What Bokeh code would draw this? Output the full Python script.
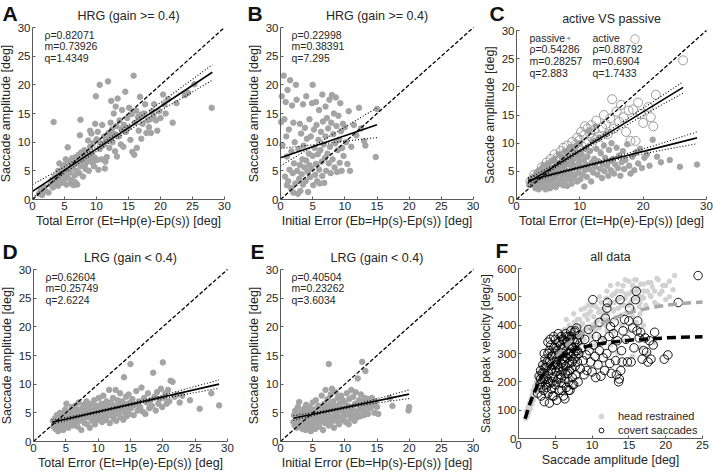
from bokeh.plotting import figure
from bokeh.layouts import column, row
from bokeh.models import Range1d, Label, FixedTicker, Legend, LegendItem
from bokeh.embed import file_html
from bokeh.resources import INLINE

FONT = "Liberation Sans"
TXT = "#262626"
AX = "#5a5a5a"
DOT = "#a4a4a4"

# ---------------- data ----------------
ident_x = [0, 30]
ident_y = [0, 30]

# A: HRG total error
a_pts = [(1.0,1.0),(1.3,1.6),(1.5,0.8),(1.8,2.2),(2.0,1.5),(2.5,1.2),(2.8,2.6),(3.0,3.4),(3.2,2.1),(3.3,13.5),
         (3.5,4.0),(3.6,2.8),(3.8,3.2),(4.0,5.0),(4.0,2.4),(4.2,6.3),(4.3,3.8),(4.5,4.6),(4.6,2.9),(4.8,5.6),
         (4.9,3.5),(5.0,4.2),(5.0,6.0),(5.2,7.0),(5.3,2.6),(5.5,9.1),(5.5,3.8),(5.6,5.2),(5.8,6.5),(5.9,4.7),
         (6.0,2.8),(6.1,3.4),(6.2,7.2),(6.3,5.6),(6.4,2.5),(6.5,6.1),(6.6,4.2),(6.7,3.0),(6.8,7.4),(6.9,5.0),
         (7.0,6.5),(7.0,2.6),(7.2,7.8),(7.3,4.6),(7.4,11.2),(7.5,13.9),(7.5,5.8),(7.6,8.2),(7.8,6.9),(7.9,4.0),
         (8.0,7.5),(8.1,8.6),(8.2,6.1),(8.3,5.3),(8.4,7.9),(8.5,8.2),(8.6,6.6),(8.7,10.3),(8.8,5.0),(8.9,7.1),
         (9.0,12.0),(9.0,9.2),(9.1,6.8),(9.2,11.5),(9.3,8.0),(9.4,6.4),(9.5,9.8),(9.6,5.8),(9.7,7.3),(9.8,13.2),
         (9.9,18.0),(10.0,10.5),(10.1,6.9),(10.2,11.8),(10.3,5.2),(10.5,20.0),(10.5,8.8),(10.6,9.9),(10.8,7.0),
         (10.9,13.0),(11.0,9.4),(11.2,11.0),(11.3,5.4),(11.4,6.6),(11.5,10.2),(11.6,7.4),(11.8,20.6),(11.9,11.6),
         (12.0,9.0),(12.1,10.8),(12.2,13.4),(12.3,17.2),(12.4,12.2),(12.5,10.0),(12.7,15.0),(12.8,11.4),(12.9,8.4),
         (13.0,16.2),(13.1,12.8),(13.2,7.5),(13.3,17.6),(13.5,11.0),(13.6,13.8),(13.8,9.6),(13.9,12.3),(14.0,15.6),
         (14.2,9.2),(14.3,13.0),(14.5,18.8),(14.6,11.8),(14.8,14.2),(15.0,12.5),(15.1,16.0),(15.3,10.4),(15.5,14.9),
         (15.6,8.3),(15.8,21.6),(15.9,7.8),(16.0,13.4),(16.2,15.5),(16.3,9.0),(16.5,14.4),(16.6,12.0),(16.8,17.9),
         (16.9,14.8),(17.0,10.6),(17.2,13.2),(17.4,15.0),(17.6,16.6),(17.8,11.6),(18.0,13.8),(18.2,12.6),(18.4,14.0),
         (18.5,11.6),(18.7,15.4),(18.9,14.6),(19.0,16.6),(19.3,13.8),(19.5,12.0),(19.8,15.4),(20.0,14.2),(20.4,18.3),
         (20.6,16.6),(20.8,15.0),(21.2,17.5),(21.9,13.4),(22.5,16.8),(23.8,18.2),(24.3,18.6),(25.3,20.1),(28.0,16.0)]
a_fit_x = [0, 28.1]
a_fit_y = [1.43, 22.2]
a_ci_x = [0, 5, 10, 15, 20, 28.1]
a_ci_hi = [2.6, 5.7, 9.2, 13.0, 16.9, 23.5]
a_ci_lo = [0.3, 4.6, 8.4, 12.0, 15.5, 20.8]
a_stats = ["ρ=0.82071", "m=0.73926", "q=1.4349"]

# B: HRG initial error
b_pts = [(0.1,13.5),(0.2,18.0),(0.3,9.5),(0.5,21.6),(0.6,14.0),(0.7,4.0),(0.8,17.0),(0.9,11.0),(1.0,2.5),(1.0,7.5),
         (1.1,19.1),(1.2,3.2),(1.3,12.2),(1.4,5.2),(1.5,20.8),(1.6,2.0),(1.7,8.4),(1.8,16.4),(1.9,4.6),(2.0,1.2),
         (2.0,13.4),(2.1,6.3),(2.2,10.0),(2.3,2.8),(2.4,20.0),(2.5,17.4),(2.6,5.0),(2.7,1.0),(2.8,8.8),(2.9,3.6),
         (3.0,13.2),(3.0,6.0),(3.1,1.5),(3.2,11.5),(3.3,4.4),(3.4,7.0),(3.5,16.6),(3.5,2.6),(3.6,9.4),(3.7,5.6),
         (3.8,12.5),(3.9,3.2),(4.0,18.0),(4.0,6.8),(4.1,10.6),(4.2,4.9),(4.3,1.3),(4.4,8.0),(4.5,14.0),(4.5,6.0),
         (4.6,3.9),(4.7,11.0),(4.8,5.4),(4.9,16.8),(5.0,20.0),(5.0,7.6),(5.1,2.5),(5.2,12.2),(5.3,9.0),(5.4,4.3),
         (5.5,17.0),(5.5,6.2),(5.6,13.0),(5.7,3.2),(5.8,7.9),(5.9,10.4),(6.0,5.2),(6.0,15.6),(6.1,2.8),(6.2,8.6),
         (6.3,11.8),(6.4,6.6),(6.5,18.3),(6.5,4.1),(6.6,13.6),(6.7,9.6),(6.8,2.9),(6.9,7.2),(7.0,16.2),(7.0,11.0),
         (7.1,5.0),(7.2,14.2),(7.3,8.0),(7.4,12.4),(7.5,6.3),(7.6,17.4),(7.7,9.2),(7.8,4.6),(7.9,13.4),(8.0,18.2),
         (8.1,7.0),(8.2,11.4),(8.3,15.0),(8.4,5.6),(8.5,9.8),(8.6,17.8),(8.7,12.8),(8.8,4.8),(8.9,8.6),(9.0,14.6),
         (9.1,10.4),(9.2,6.4),(9.3,16.8),(9.4,11.9),(9.5,5.0),(9.6,9.0),(9.7,13.2),(9.8,7.6),(10.0,12.6),(10.2,10.0),
         (10.4,6.2),(10.6,15.4),(10.8,5.0),(11.0,9.2),(11.4,13.0),(11.8,11.2),(12.2,16.0),(12.5,12.4),(13.0,10.2),
         (13.2,9.4),(14.8,7.4),(15.0,15.8)]
b_fit_x = [0, 15]
b_fit_y = [7.3, 13.05]
b_ci1_y = [5.85, 16.0]
b_ci2_y = [8.9, 10.8]
b_stats = ["ρ=0.22998", "m=0.38391", "q=7.295"]

# C: active vs passive
c_passive = [(2.0,2.6),(2.2,3.0),(2.4,3.5),(2.5,2.8),(2.6,4.0),(2.8,3.2),(3.0,2.0),(3.0,3.8),(3.1,4.6),(3.2,2.6),
             (3.3,3.4),(3.4,5.0),(3.5,1.8),(3.6,4.2),(3.7,2.9),(3.8,3.6),(3.9,5.4),(4.0,2.2),(4.0,4.4),(4.1,3.1),
             (4.2,6.0),(4.3,2.6),(4.4,3.8),(4.5,5.2),(4.6,1.8),(4.7,4.0),(4.8,3.0),(4.9,6.4),(5.0,2.4),(5.0,4.8),
             (5.1,3.5),(5.2,5.6),(5.3,2.0),(5.4,4.2),(5.5,6.8),(5.6,3.0),(5.7,5.0),(5.8,2.6),(5.9,4.6),(6.0,7.2),
             (6.0,3.6),(6.1,5.8),(6.2,2.2),(6.3,4.0),(6.4,6.4),(6.5,3.2),(6.6,5.2),(6.7,8.0),(6.8,2.8),(6.9,4.8),
             (7.0,6.0),(7.1,3.6),(7.2,7.4),(7.3,4.4),(7.4,2.5),(7.5,5.6),(7.6,8.6),(7.7,3.4),(7.8,6.6),(7.9,4.2),
             (8.0,2.4),(8.0,5.0),(8.2,7.8),(8.3,3.6),(8.4,6.2),(8.5,9.2),(8.6,4.6),(8.7,2.8),(8.8,5.4),(8.9,7.0),
             (9.0,3.8),(9.1,6.0),(9.2,8.4),(9.3,4.4),(9.4,9.6),(9.5,5.6),(9.6,3.2),(9.7,7.4),(9.8,4.8),(9.9,6.6),
             (10.0,10.0),(10.1,3.6),(10.2,5.8),(10.3,8.0),(10.4,4.4),(10.6,7.0),(10.7,2.3),(10.8,5.2),(10.9,9.0),
             (11.0,6.2),(11.1,4.0),(11.2,7.6),(11.4,12.2),(11.5,5.4),(11.6,8.6),(11.8,3.2),(11.9,6.6),(12.0,10.4),
             (12.1,4.8),(12.3,7.2),(12.4,5.8),(12.5,13.0),(12.6,9.0),(12.8,4.4),(12.9,6.8),(13.0,11.0),(13.2,5.4),
             (13.3,8.2),(13.5,3.8),(13.6,6.2),(13.8,9.6),(13.9,5.0),(14.0,7.4),(14.2,11.6),(14.3,6.0),(14.5,4.2),
             (14.6,8.8),(14.8,6.8),(14.9,5.2),(15.0,10.0),(15.2,7.2),(15.4,4.6),(15.6,6.2),(15.8,9.2),(16.0,5.6),
             (16.2,7.8),(16.4,4.2),(16.6,6.6),(16.8,8.6),(17.0,5.4),(17.2,7.0),(17.5,9.8),(17.8,6.0),(18.0,4.6),
             (18.3,7.6),(18.6,5.2),(18.9,8.4),(19.2,6.4),(19.5,9.0),(19.8,5.6),(20.2,7.4),(20.6,8.0),(21.0,6.0),
             (21.5,10.6),(22.2,7.6),(22.8,6.6),(24.2,7.0),(25.8,5.8),(28.5,6.2)]
c_active = [(2.2,3.2),(2.8,4.4),(3.0,2.8),(3.2,3.6),(3.6,4.8),(4.0,5.8),(4.2,3.8),(4.6,4.4),(4.8,6.6),(5.0,4.0),
            (5.2,5.2),(5.4,7.2),(5.6,4.2),(5.8,6.0),(6.0,8.0),(6.2,5.0),(6.4,6.8),(6.6,7.6),(6.8,5.6),(7.0,8.6),
            (7.0,5.0),(7.2,6.4),(7.4,9.2),(7.6,7.0),(7.8,8.0),(8.0,9.6),(8.2,6.6),(8.4,7.8),(8.5,6.0),(8.6,9.0),
            (8.8,10.2),(9.0,8.4),(9.2,7.2),(9.4,9.8),(9.6,11.0),(9.8,8.8),(10.0,10.6),(10.2,12.0),(10.4,9.4),
            (10.6,11.4),(10.8,13.0),(11.0,10.0),(11.2,12.6),(11.4,9.0),(11.6,11.8),(11.8,13.2),(12.0,10.8),
            (12.3,12.4),(12.6,14.0),(12.9,11.2),(13.2,9.6),(13.5,12.8),(13.8,15.0),(14.1,13.4),(14.4,11.6),
            (14.8,14.4),(15.1,17.8),(15.4,12.6),(15.8,15.6),(16.2,13.8),(16.5,16.8),(16.9,14.6),(17.3,12.0),
            (17.7,15.8),(18.0,10.4),(18.4,16.0),(18.8,10.4),(19.2,17.2),(19.6,15.2),(20.0,13.6),(20.8,16.4),
            (21.2,14.6),(21.6,13.0),(22.0,18.6),(26.3,24.7)]
c_act_fit_x = [1.8, 26.3]
c_act_fit_y = [2.99, 19.9]
c_act_ci_x = [1.8, 6, 10, 14, 18, 22, 26.3]
c_act_ci_hi = [3.7, 6.2, 8.9, 11.8, 14.7, 17.7, 20.9]
c_act_ci_lo = [2.3, 5.55, 8.4, 11.0, 13.6, 16.2, 18.9]
c_pas_fit_x = [1.8, 28.5]
c_pas_fit_y = [3.39, 10.94]
c_pas_ci_x = [1.8, 6, 10, 14, 18, 22, 28.5]
c_pas_ci_hi = [3.9, 4.75, 5.85, 7.05, 8.35, 9.65, 12.0]
c_pas_ci_lo = [2.9, 4.4, 5.55, 6.6, 7.6, 8.55, 9.9]
c_pas_stats = ["ρ=0.54286", "m=0.28257", "q=2.883"]
c_act_stats = ["ρ=0.88792", "m=0.6904", "q=1.7433"]

# D: LRG total error
d_pts = [(3.0,3.6),(3.1,2.6),(3.2,3.0),(3.3,4.0),(3.4,2.2),(3.5,3.4),(3.6,4.6),(3.7,2.8),(3.8,1.8),(3.9,3.8),
         (4.0,3.2),(4.1,5.0),(4.2,2.4),(4.3,4.2),(4.4,3.0),(4.5,3.6),(4.6,2.0),(4.7,4.8),(4.8,3.4),(4.9,5.6),
         (5.0,2.6),(5.0,4.0),(5.1,6.6),(5.2,3.2),(5.3,4.6),(5.4,2.4),(5.5,3.8),(5.6,5.2),(5.7,3.0),(5.8,4.4),
         (5.9,6.0),(6.0,3.6),(6.1,2.8),(6.2,5.0),(6.3,4.0),(6.4,6.2),(6.5,3.2),(6.6,4.6),(6.7,5.6),(6.8,2.6),
         (6.9,4.2),(7.0,6.8),(7.1,3.6),(7.2,5.2),(7.3,4.4),(7.4,2.0),(7.5,5.8),(7.6,3.8),(7.7,4.8),(7.8,6.4),
         (7.9,3.2),(8.0,5.4),(8.1,4.2),(8.2,7.0),(8.3,3.0),(8.4,5.0),(8.5,6.0),(8.6,4.6),(8.7,2.4),(8.8,5.6),
         (8.9,4.0),(9.0,6.6),(9.1,3.6),(9.2,5.2),(9.3,4.6),(9.4,7.2),(9.5,3.0),(9.6,5.8),(9.7,4.2),(9.8,6.2),
         (9.9,5.0),(10.0,3.8),(10.1,7.6),(10.2,4.8),(10.3,5.6),(10.4,4.0),(10.5,6.6),(10.6,3.4),(10.7,5.2),
         (10.8,8.0),(10.9,4.6),(11.0,6.0),(11.1,5.4),(11.2,3.8),(11.3,7.0),(11.4,4.4),(11.5,6.4),(11.6,5.0),
         (11.7,9.0),(11.8,3.2),(11.9,5.8),(12.0,6.8),(12.1,4.6),(12.2,5.4),(12.3,7.6),(12.4,4.0),(12.5,6.2),
         (12.6,5.0),(12.7,9.0),(12.8,3.6),(12.9,5.8),(13.0,7.2),(13.1,4.8),(13.2,6.4),(13.3,5.2),(13.4,8.4),
         (13.5,4.2),(13.6,6.0),(13.7,7.0),(13.8,5.4),(13.9,3.8),(14.0,11.2),(14.1,6.6),(14.2,5.0),(14.3,7.8),
         (14.4,4.4),(14.5,6.2),(14.6,5.6),(14.7,8.2),(14.8,4.8),(14.9,6.8),(15.0,13.5),(15.1,5.8),(15.3,7.4),
         (15.5,4.6),(15.7,6.4),(15.9,8.8),(16.1,5.4),(16.3,7.0),(16.5,6.0),(16.7,9.4),(16.9,5.2),(17.1,7.6),
         (17.3,4.8),(17.5,6.8),(17.7,8.4),(17.9,5.8),(18.1,7.2),(18.3,6.2),(18.5,12.0),(18.7,7.8),(18.9,5.4),
         (19.1,8.6),(19.3,6.6),(19.5,7.4),(19.7,9.2),(19.9,6.0),(20.0,13.8),(20.2,7.6),(20.4,8.4),(20.6,6.6),
         (20.8,9.0),(21.0,7.0),(21.2,10.6),(21.5,10.4),(21.8,7.8),(22.2,8.2),(22.6,6.8),(23.0,8.0),(24.2,7.2),
         (25.7,5.7),(27.5,8.4),(28.7,6.3)]
d_fit_x = [2.9, 28.7]
d_fit_y = [3.37, 10.01]
d_ci_x = [2.9, 8, 14, 20, 28.7]
d_ci_hi = [3.75, 4.85, 6.4, 8.05, 10.75]
d_ci_lo = [3.0, 4.5, 6.05, 7.5, 9.3]
d_stats = ["ρ=0.62604", "m=0.25749", "q=2.6224"]

# E: LRG initial error
e_pts = [(2.0,3.4),(2.1,4.6),(2.2,2.8),(2.3,5.4),(2.4,3.8),(2.5,2.4),(2.6,4.2),(2.7,6.0),(2.8,3.2),(2.9,6.9),
         (3.0,4.8),(3.1,2.6),(3.2,3.8),(3.3,5.2),(3.4,2.2),(3.5,4.4),(3.6,3.0),(3.7,5.8),(3.8,3.6),(3.9,2.0),
         (4.0,4.8),(4.0,6.4),(4.1,3.2),(4.2,5.4),(4.3,2.6),(4.4,4.0),(4.5,6.0),(4.6,3.6),(4.7,1.8),(4.8,5.0),
         (4.9,4.2),(5.0,2.8),(5.0,6.8),(5.1,3.8),(5.2,5.6),(5.3,4.4),(5.4,2.2),(5.5,7.2),(5.6,3.4),(5.7,5.0),
         (5.8,4.0),(5.9,6.2),(6.0,2.6),(6.1,4.6),(6.2,5.8),(6.3,3.6),(6.4,8.0),(6.5,4.2),(6.6,2.0),(6.7,5.4),
         (6.8,6.6),(6.9,3.2),(7.0,9.0),(7.0,4.8),(7.1,6.0),(7.2,3.8),(7.3,7.4),(7.4,5.2),(7.5,13.5),(7.5,2.8),
         (7.6,4.4),(7.7,6.4),(7.8,8.2),(7.9,3.4),(8.0,9.2),(8.0,5.6),(8.1,4.0),(8.2,7.0),(8.3,2.4),(8.4,5.0),
         (8.5,6.2),(8.6,8.6),(8.7,3.6),(8.8,4.6),(8.9,7.6),(9.0,5.4),(9.1,3.0),(9.2,6.6),(9.3,4.2),(9.4,8.0),
         (9.5,5.8),(9.6,3.8),(9.7,7.2),(9.8,5.0),(9.9,4.4),(10.0,6.8),(10.1,3.4),(10.2,5.6),(10.3,8.4),(10.4,4.8),
         (10.5,6.2),(10.6,3.0),(10.7,7.4),(10.8,5.2),(10.9,4.0),(11.0,9.0),(11.1,6.0),(11.2,4.6),(11.3,7.8),
         (11.4,5.4),(11.5,3.6),(11.6,6.6),(11.7,8.6),(11.8,5.0),(11.9,4.2),(12.0,11.0),(12.1,6.4),(12.2,7.2),
         (12.3,5.6),(12.4,4.4),(12.5,8.2),(12.6,6.0),(12.7,13.9),(12.8,7.0),(12.9,5.2),(13.0,4.6),(13.1,7.6),
         (13.2,12.3),(13.3,6.2),(13.4,5.4),(13.5,7.4),(13.6,4.8),(13.8,6.8),(14.0,5.8),(14.2,7.6),(14.4,6.4),
         (14.6,5.0),(14.8,7.0),(15.0,6.0),(15.2,4.8),(17.0,7.6),(17.4,6.2),(19.9,5.4),(20.0,6.0)]
e_fit_x = [2.0, 20.0]
e_fit_y = [4.07, 8.26]
e_ci_x = [2, 6, 10, 14, 20]
e_ci_hi = [4.5, 5.2, 6.1, 7.15, 9.0]
e_ci_lo = [3.65, 4.8, 5.75, 6.55, 7.5]
e_stats = ["ρ=0.40504", "m=0.23262", "q=3.6034"]

# F: all data (amplitude vs peak velocity)
f_hr = [(1.0,70),(1.1,95),(1.2,80),(1.3,110),(1.4,90),(1.5,125),(1.6,105),(1.7,140),(1.8,120),(1.9,155),
        (2.0,135),(2.0,170),(2.1,150),(2.2,185),(2.3,160),(2.4,200),(2.5,175),(2.6,215),(2.7,190),(2.8,230),
        (2.9,205),(3.0,245),(3.0,180),(3.1,220),(3.2,260),(3.3,200),(3.4,240),(3.5,275),(3.6,215),(3.7,255),
        (3.8,290),(3.9,230),(4.0,270),(4.0,205),(4.2,300),(4.3,245),(4.4,280),(4.5,320),(4.6,260),(4.8,300),
        (4.9,340),(5.0,230),(5.1,285),(5.2,320),(5.3,355),(5.4,270),(5.6,305),(5.7,340),(5.8,370),(5.9,290),
        (6.0,320),(6.2,355),(6.3,385),(6.4,300),(6.5,420),(6.6,335),(6.8,370),(6.9,400),(7.0,315),(7.2,350),
        (7.4,385),(7.5,330),(7.5,440),(7.6,410),(7.8,365),(8.0,395),(8.1,340),(8.3,420),(8.5,375),(8.5,455),
        (8.7,405),(8.9,350),(9.0,435),(9.2,390),(9.4,420),(9.5,320),(9.5,470),(9.6,365),(9.8,450),(10.0,400),
        (10.2,430),(10.4,380),(10.5,330),(10.5,465),(10.7,415),(10.9,445),(11.0,390),(11.2,480),(11.4,425),
        (11.5,350),(11.6,455),(11.8,400),(12.0,495),(12.1,440),(12.3,470),(12.5,410),(12.5,330),(12.7,505),
        (12.9,450),(13.0,480),(13.2,425),(13.4,520),(13.5,300),(13.6,460),(13.8,495),(14.0,435),(14.2,540),
        (14.4,470),(14.5,345),(14.6,510),(14.8,445),(15.0,555),(15.2,480),(15.4,520),(15.5,290),(15.6,455),
        (15.8,560),(16.0,495),(16.2,530),(16.4,465),(16.5,320),(16.6,545),(16.8,500),(17.0,520),(17.3,470),
        (17.5,300),(17.6,550),(17.9,505),(18.2,535),(18.5,480),(18.5,340),(18.8,565),(19.2,510),(19.6,540),
        (20.0,490),(20.5,555),(21.0,525),(21.2,575),
        (6.0,380),(6.5,350),(7.0,390),(7.5,360),(8.0,420),(8.5,400),(9.0,380),(9.0,460),(9.5,440),(10.0,470),
        (10.0,360),(10.5,410),(11.0,455),(11.0,500),(11.5,440),(12.0,420),(12.0,520),(12.5,480),(12.5,540),
        (13.0,455),(13.0,510),(13.5,490),(13.5,545),(14.0,470),(14.0,520),(14.5,495),(14.5,560),(15.0,470),
        (15.0,510),(15.5,540),(15.5,490),(16.0,520),(16.0,560),(16.5,500),(16.5,480),(17.0,545),(17.0,495),
        (17.5,520),(18.0,550),(18.0,500),(18.5,520),(19.0,560),(19.5,520),(20.0,540),(13.0,380),(14.0,400),
        (15.0,380),(16.0,410),(17.0,400),(11.0,360),(12.0,380),(19.0,470),(20.5,500),(14.5,440),(15.5,430),
        (16.5,440)]
f_cs = [(2.6,160),(2.8,220),(3.0,180),(3.0,240),(3.1,150),(3.2,200),(3.3,260),(3.4,170),(3.5,230),(3.5,130),
        (3.6,280),(3.7,190),(3.8,250),(3.9,210),(4.0,160),(4.0,300),(4.1,230),(4.2,125),(4.2,270),(4.3,195),
        (4.4,330),(4.5,245),(4.5,175),(4.6,290),(4.7,215),(4.8,150),(4.8,320),(4.9,260),(5.0,190),(5.0,350),
        (5.1,235),(5.2,280),(5.2,135),(5.3,310),(5.4,210),(5.4,250),(5.5,340),(5.5,170),(5.6,290),(5.7,225),
        (5.8,360),(5.8,265),(5.9,195),(6.0,320),(6.0,240),(6.1,150),(6.1,300),(6.2,275),(6.2,345),(6.3,210),
        (6.4,370),(6.4,255),(6.5,180),(6.5,310),(6.6,285),(6.7,230),(6.7,340),(6.8,200),(6.9,360),(6.9,265),
        (7.0,170),(7.0,300),(7.1,380),(7.2,245),(7.2,325),(7.3,215),(7.4,350),(7.5,280),(7.5,190),(7.6,375),
        (7.7,255),(7.8,310),(7.8,225),(7.9,390),(8.0,270),(8.0,340),(8.1,200),(8.2,300),(8.3,365),(8.4,245),
        (8.6,320),(8.8,275),(8.9,225),(9.0,350),(9.2,295),(9.3,240),(9.5,385),(9.6,310),(9.8,270),(10.0,235),
        (10.1,490),(10.2,330),(10.4,290),(10.5,215),(10.6,360),(10.8,260),(11.0,310),(11.0,410),(11.2,220),
        (11.4,345),(11.5,285),(11.7,240),(11.8,425),(12.0,300),(12.0,460),(12.1,480),(12.3,360),(12.4,265),
        (12.5,395),(12.6,230),(12.8,320),(12.9,370),(13.0,410),(13.2,275),(13.3,225),(13.4,345),(13.6,200),
        (13.7,210),(13.8,490),(13.9,240),(14.0,310),(14.1,270),(14.2,380),(14.4,420),(14.6,350),(14.8,270),
        (15.0,415),(15.1,460),(15.3,270),(15.5,390),(15.7,320),(15.9,490),(16.0,520),(16.1,380),(16.2,415),
        (16.4,355),(16.6,375),(16.8,280),(17.0,310),(17.2,355),(17.4,305),(17.6,270),(17.8,345),(18.0,280),
        (18.3,330),(18.5,375),(19.8,280),(20.3,295),(21.7,480),(24.4,575),
        (3.2,230),(3.4,210),(3.6,250),(3.8,180),(3.9,270),(4.1,200),(4.2,310),(4.4,240),(4.5,290),(4.6,200),
        (4.7,260),(4.9,300),(5.0,270),(5.1,320),(5.2,200),(5.3,260),(5.5,300),(5.6,245),(5.7,330),(5.8,215),
        (5.9,280),(6.0,350),(6.1,260),(6.2,320),(6.3,290),(6.4,230),(6.5,340),(6.6,360),(6.7,300),(6.8,330),
        (6.9,240),(7.0,350),(7.1,290),(7.2,360),(7.3,270),(7.4,320),(7.5,300),(7.6,340),(7.7,380),(7.8,290),
        (7.9,350),(8.0,310),(4.0,340),(4.3,350),(4.8,360),(5.4,370),(3.5,300),(3.0,210),(2.9,190),(4.6,150),
        (5.9,170),(6.3,140),(6.8,170),(7.3,190)]
f_fit_x = [0.9, 1.5, 2, 3, 4, 5, 6, 7, 8, 10, 12, 14, 16, 18, 20, 22, 25]
f_hr_fit_y = [70, 115, 150, 205, 250, 285, 315, 340, 360, 390, 415, 435, 450, 462, 470, 476, 482]
f_cs_fit_y = [70, 120, 155, 210, 250, 275, 293, 307, 317, 330, 338, 344, 349, 352, 355, 357, 359]

ticks5 = [0, 5, 10, 15, 20, 25, 30]
ticks10 = [0, 10, 20, 30]
ticks_f_x = [0, 5, 10, 15, 20, 25]
ticks_f_y = [0, 100, 200, 300, 400, 500, 600]


def xs(pts):
    return [q[0] for q in pts]


def ys(pts):
    return [q[1] for q in pts]


def make_fig(W, H, L, R, T, B, xmax, ymax, xt, yt, title, xlabel, ylabel, letter, lx, ly,
             ytick_standoff=2, ylab_standoff=2, ylab_size="12.5px"):
    """Whole figure is the frame; the data box (0..xmax, 0..ymax) is put at pixels L..R, T..B."""
    ppx = (R - L) / xmax
    ppy = (B - T) / ymax
    x0, x1 = -L / ppx, xmax + (W - R) / ppx
    y0, y1 = -(H - B) / ppy, ymax + T / ppy
    p = figure(width=W, height=H, x_range=Range1d(x0, x1), y_range=Range1d(y0, y1), title=None,
               output_backend="svg", toolbar_location=None,
               min_border=0, min_border_left=0, min_border_right=0, min_border_top=0, min_border_bottom=0)
    p.outline_line_color = None
    p.grid.visible = False
    p.background_fill_color = "white"
    p.border_fill_color = "white"
    specs = ((p.xaxis[0], xt, xlabel, xmax, "12.5px", 2, 1),
             (p.yaxis[0], yt, ylabel, ymax, ylab_size, ytick_standoff, ylab_standoff))
    for ax, ticks, lab, mx, lsize, tso, lso in specs:
        ax.fixed_location = 0
        ax.bounds = (0, mx)
        ax.ticker = FixedTicker(ticks=ticks)
        ax.axis_label = lab
        ax.axis_label_text_font = FONT
        ax.axis_label_text_font_size = lsize
        ax.axis_label_text_font_style = "normal"
        ax.axis_label_text_color = TXT
        ax.major_label_text_font = FONT
        ax.major_label_text_font_size = "11.5px"
        ax.major_label_text_color = TXT
        ax.axis_line_color = AX
        ax.major_tick_line_color = AX
        ax.major_tick_in = 3
        ax.major_tick_out = 0
        ax.minor_tick_line_color = None
        ax.major_label_standoff = tso
        ax.axis_label_standoff = lso
    p.add_layout(Label(x=x0, y=y1, x_offset=lx, y_offset=-ly, text=letter,
                       text_font=FONT, text_font_size="21px", text_font_style="bold",
                       text_baseline="top", text_align="left", text_color="#111111"))
    p.add_layout(Label(x=xmax / 2, y=ymax, y_offset=5, text=title, text_font=FONT, text_font_size="12.5px",
                       text_baseline="bottom", text_align="center", text_color=TXT))
    return p


def stats(p, lines, dx, dy0=1, step=11.7, ytop=30):
    for i, t in enumerate(lines):
        p.add_layout(Label(x=0, y=ytop, x_offset=dx, y_offset=-(dy0 + i * step),
                           text=t, text_font=FONT, text_font_size="10.5px", text_baseline="top",
                           text_align="left", text_color=TXT))


def ident(p):
    p.line(ident_x, ident_y, line_color="black", line_width=1.3, line_dash="4 2")


def fit(p, fx, fy):
    p.line(fx, fy, line_color="black", line_width=1.6)


def ci(p, cx, cy):
    p.line(cx, cy, line_color="black", line_width=1.1, line_dash="1 2")


W1, W2, W3 = 236, 243, 234
H1, H2 = 234, 238

XL_T = "Total Error (Et=Hp(e)-Ep(s)) [deg]"
XL_I = "Initial Error (Eb=Hp(s)-Ep(s)) [deg]"
YL = "Saccade amplitude [deg]"

# ---- A
pa = make_fig(W1, H1, 32, 224, 27, 199, 30, 30, ticks5, ticks5, "HRG (gain >= 0.4)", XL_T, YL, "A", 2, 1)
pa.scatter(xs(a_pts), ys(a_pts), size=5.5, color=DOT)
ident(pa)
fit(pa, a_fit_x, a_fit_y)
ci(pa, a_ci_x, a_ci_hi)
ci(pa, a_ci_x, a_ci_lo)
stats(pa, a_stats, 12)

# ---- B
pb = make_fig(W2, H1, 44, 237, 27, 199, 30, 30, ticks5, ticks5, "HRG (gain >= 0.4)", XL_I, YL, "B", 11, 1)
pb.scatter(xs(b_pts), ys(b_pts), size=5.5, color=DOT)
ident(pb)
fit(pb, b_fit_x, b_fit_y)
ci(pb, b_fit_x, b_ci1_y)
ci(pb, b_fit_x, b_ci2_y)
stats(pb, b_stats, 11)

# ---- C
pc = make_fig(W3, H1, 37, 227, 30, 199, 30, 30, ticks10, ticks5, "active VS passive", XL_T, YL, "C", 10, 1)
pc.scatter(xs(c_passive), ys(c_passive), size=5.5, color=DOT)
pc.scatter(xs(c_active), ys(c_active), size=9, fill_color=None, line_color="#9c9c9c", line_width=1)
ident(pc)
fit(pc, c_act_fit_x, c_act_fit_y)
ci(pc, c_act_ci_x, c_act_ci_hi)
ci(pc, c_act_ci_x, c_act_ci_lo)
fit(pc, c_pas_fit_x, c_pas_fit_y)
ci(pc, c_pas_ci_x, c_pas_ci_hi)
ci(pc, c_pas_ci_x, c_pas_ci_lo)
stats(pc, ["passive"] + c_pas_stats, 13)
stats(pc, ["active"] + c_act_stats, 76)
pc.add_layout(Label(x=0, y=30, x_offset=50, y_offset=-7, text="●", text_font=FONT, text_font_size="7px",
                    text_baseline="middle", text_color=DOT))
pc.add_layout(Label(x=0, y=30, x_offset=113, y_offset=-7, text="○", text_font="DejaVu Sans",
                    text_font_size="12px", text_baseline="middle", text_color="#9c9c9c"))

# ---- D
pd_ = make_fig(W1, H2, 33, 227, 35, 207, 30, 30, ticks5, ticks5, "LRG (gain < 0.4)", XL_T, YL, "D", 2, 5)
pd_.scatter(xs(d_pts), ys(d_pts), size=5.5, color=DOT)
ident(pd_)
fit(pd_, d_fit_x, d_fit_y)
ci(pd_, d_ci_x, d_ci_hi)
ci(pd_, d_ci_x, d_ci_lo)
stats(pd_, d_stats, 12)

# ---- E
pe = make_fig(W2, H2, 44, 237, 35, 207, 30, 30, ticks5, ticks5, "LRG (gain < 0.4)", XL_I, YL, "E", 14, 5)
pe.scatter(xs(e_pts), ys(e_pts), size=5.5, color=DOT)
ident(pe)
fit(pe, e_fit_x, e_fit_y)
ci(pe, e_ci_x, e_ci_hi)
ci(pe, e_ci_x, e_ci_lo)
stats(pe, e_stats, 11)

# ---- F
pf = make_fig(W3, H2, 39, 223, 34, 204, 25, 600, ticks_f_x, ticks_f_y, "all data",
              "Saccade amplitude [deg]", "Saccade peak velocity [deg/s]", "F", 16, 4,
              ytick_standoff=2, ylab_standoff=1, ylab_size="12px")
r_hr = pf.scatter(xs(f_hr), ys(f_hr), size=4.5, color="#d2d2d2")
r_cs = pf.scatter(xs(f_cs), ys(f_cs), size=8.5, fill_color=None, line_color="black", line_width=0.9)
pf.line(f_fit_x, f_hr_fit_y, line_color="#a8a8a8", line_width=3.5, line_dash="9 5")
pf.line(f_fit_x, f_cs_fit_y, line_color="black", line_width=3.5, line_dash="9 5")
leg = Legend(items=[LegendItem(label="head restrained", renderers=[r_hr]),
                    LegendItem(label="covert saccades", renderers=[r_cs])],
             location=(114, 36), label_text_font=FONT, label_text_font_size="11px",
             label_text_color=TXT, border_line_color=None, background_fill_alpha=0,
             glyph_width=16, glyph_height=12, spacing=2, padding=2, margin=0, label_standoff=9)
pf.add_layout(leg)

layout = column(row(pa, pb, pc), row(pd_, pe, pf))
open("out.html", "w").write(file_html(layout, INLINE))
